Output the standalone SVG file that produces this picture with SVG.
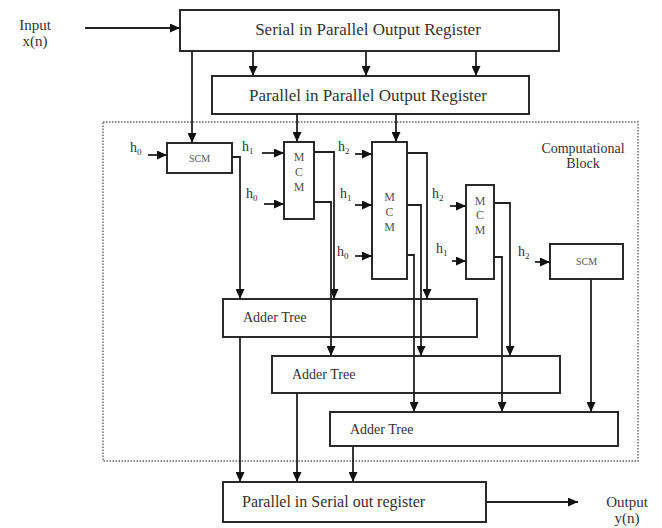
<svg xmlns="http://www.w3.org/2000/svg" width="662" height="528" viewBox="0 0 662 528">
<defs>
<marker id="ah" markerUnits="userSpaceOnUse" markerWidth="11" markerHeight="9" refX="10" refY="4.5" orient="auto">
<path d="M0,0 L10,4.5 L0,9 z" fill="#111"/>
</marker>
<style>
.box{fill:#fff;stroke:#2a2a2a;stroke-width:2}
.ln{fill:none;stroke:#222;stroke-width:1.8}
.ar{fill:none;stroke:#222;stroke-width:1.8;marker-end:url(#ah)}
.t{font-family:"Liberation Serif","Times New Roman",serif;fill:#333}
.big{font-size:17px}
.mid{font-size:14px}
.piso{font-size:16px}
.io{font-size:15px}
.sm{font-size:10px;fill:#555}
.mcm{font-size:12px;fill:#555}
.h{font-size:14px}
.sub{font-size:9px}
</style>
</defs>
<rect width="662" height="528" fill="#fff"/>

<!-- computational block border -->
<rect id="compblock" x="103" y="122" width="535" height="339" fill="none" stroke="#888" stroke-width="1.8" stroke-dasharray="1.5,1.5"/>
<text class="t mid" x="583" y="153" text-anchor="middle">Computational</text>
<text class="t mid" x="583" y="168" text-anchor="middle">Block</text>

<g id="input-label">
<text class="t io" x="35" y="30" text-anchor="middle">Input</text>
<text class="t io" x="35" y="46" text-anchor="middle">x(n)</text>
</g>
<g id="output-label">
<text class="t io" x="627" y="507" text-anchor="middle">Output</text>
<text class="t io" x="627" y="523" text-anchor="middle">y(n)</text>
</g>

<g id="sipo">
<rect class="box" x="180" y="10" width="379" height="41"/>
<text class="t big" x="368" y="35" text-anchor="middle">Serial in Parallel Output Register</text>
</g>
<g id="pipo">
<rect class="box" x="212" y="76" width="317" height="38"/>
<text class="t big" x="368" y="101" text-anchor="middle">Parallel in Parallel Output Register</text>
</g>
<g id="scm1">
<rect class="box" x="167" y="143" width="65" height="30"/>
<text class="t sm" x="199.5" y="161.5" text-anchor="middle">SCM</text>
</g>
<g id="mcm1">
<rect class="box" x="284" y="142" width="30" height="77"/>
<text class="t mcm" x="299" y="161" text-anchor="middle">M</text>
<text class="t mcm" x="299" y="176" text-anchor="middle">C</text>
<text class="t mcm" x="299" y="191" text-anchor="middle">M</text>
</g>
<g id="mcm2">
<rect class="box" x="372" y="142" width="35" height="137"/>
<text class="t mcm" x="389.5" y="201" text-anchor="middle">M</text>
<text class="t mcm" x="389.5" y="216" text-anchor="middle">C</text>
<text class="t mcm" x="389.5" y="231" text-anchor="middle">M</text>
</g>
<g id="mcm3">
<rect class="box" x="466" y="185" width="28" height="94"/>
<text class="t mcm" x="480" y="205" text-anchor="middle">M</text>
<text class="t mcm" x="480" y="219" text-anchor="middle">C</text>
<text class="t mcm" x="480" y="234" text-anchor="middle">M</text>
</g>
<g id="scm2">
<rect class="box" x="550" y="244" width="73" height="35"/>
<text class="t sm" x="586.5" y="265" text-anchor="middle">SCM</text>
</g>
<g id="adder1">
<rect class="box" x="223" y="299" width="254" height="38"/>
<text class="t mid" x="243" y="322">Adder Tree</text>
</g>
<g id="adder2">
<rect class="box" x="272" y="356" width="288" height="37"/>
<text class="t mid" x="292" y="379">Adder Tree</text>
</g>
<g id="adder3">
<rect class="box" x="330" y="412" width="288" height="34"/>
<text class="t mid" x="350" y="434">Adder Tree</text>
</g>
<g id="piso">
<rect class="box" x="223" y="482" width="263" height="40"/>
<text class="t piso" x="242" y="507">Parallel in Serial out register</text>
</g>

<g id="hlabels">
<text class="t h" x="130" y="152">h<tspan class="sub" dy="3">0</tspan></text>
<text class="t h" x="242" y="151">h<tspan class="sub" dy="3">1</tspan></text>
<text class="t h" x="246" y="198">h<tspan class="sub" dy="3">0</tspan></text>
<text class="t h" x="338" y="151">h<tspan class="sub" dy="3">2</tspan></text>
<text class="t h" x="340" y="198">h<tspan class="sub" dy="3">1</tspan></text>
<text class="t h" x="337" y="256">h<tspan class="sub" dy="3">0</tspan></text>
<text class="t h" x="432" y="198">h<tspan class="sub" dy="3">2</tspan></text>
<text class="t h" x="436" y="253">h<tspan class="sub" dy="3">1</tspan></text>
<text class="t h" x="518" y="256">h<tspan class="sub" dy="3">2</tspan></text>
</g>

<g id="connectors">
<!-- input / output -->
<line class="ar" x1="85" y1="28" x2="180" y2="28"/>
<line class="ar" x1="486" y1="502" x2="578" y2="502"/>
<!-- SIPO to PIPO -->
<line class="ar" x1="253" y1="51" x2="253" y2="76"/>
<line class="ar" x1="366" y1="51" x2="366" y2="76"/>
<line class="ar" x1="476" y1="51" x2="476" y2="76"/>
<!-- SIPO to SCM1 -->
<line class="ar" x1="192" y1="51" x2="192" y2="143"/>
<!-- PIPO to MCMs -->
<line class="ar" x1="297" y1="114" x2="297" y2="142"/>
<line class="ar" x1="396" y1="114" x2="396" y2="142"/>
<!-- coefficient inputs -->
<line class="ar" x1="148" y1="155" x2="167" y2="155"/>
<line class="ar" x1="262" y1="153" x2="284" y2="153"/>
<line class="ar" x1="264" y1="204" x2="284" y2="204"/>
<line class="ar" x1="355" y1="154" x2="372" y2="154"/>
<line class="ar" x1="355" y1="205" x2="372" y2="205"/>
<line class="ar" x1="355" y1="256" x2="372" y2="256"/>
<line class="ar" x1="450" y1="206" x2="466" y2="206"/>
<line class="ar" x1="452" y1="261" x2="466" y2="261"/>
<line class="ar" x1="535" y1="262" x2="550" y2="262"/>
<!-- SCM1 output -->
<polyline class="ar" points="232,157 240,157 240,299"/>
<!-- MCM1 outputs -->
<polyline class="ar" points="314,152 334,152 334,299"/>
<polyline class="ar" points="314,202 331,202 331,356"/>
<!-- MCM2 outputs -->
<polyline class="ar" points="407,153 427,153 427,299"/>
<polyline class="ar" points="407,205 421,205 421,356"/>
<polyline class="ar" points="407,255 414,255 414,412"/>
<!-- MCM3 outputs -->
<polyline class="ar" points="494,203 510,203 510,356"/>
<polyline class="ar" points="494,257 502,257 502,412"/>
<!-- SCM2 output -->
<line class="ar" x1="591" y1="279" x2="591" y2="412"/>
<!-- adder outputs to PISO -->
<line class="ar" x1="240" y1="337" x2="240" y2="482"/>
<line class="ar" x1="297" y1="393" x2="297" y2="482"/>
<line class="ar" x1="353" y1="446" x2="353" y2="482"/>
</g>
</svg>
